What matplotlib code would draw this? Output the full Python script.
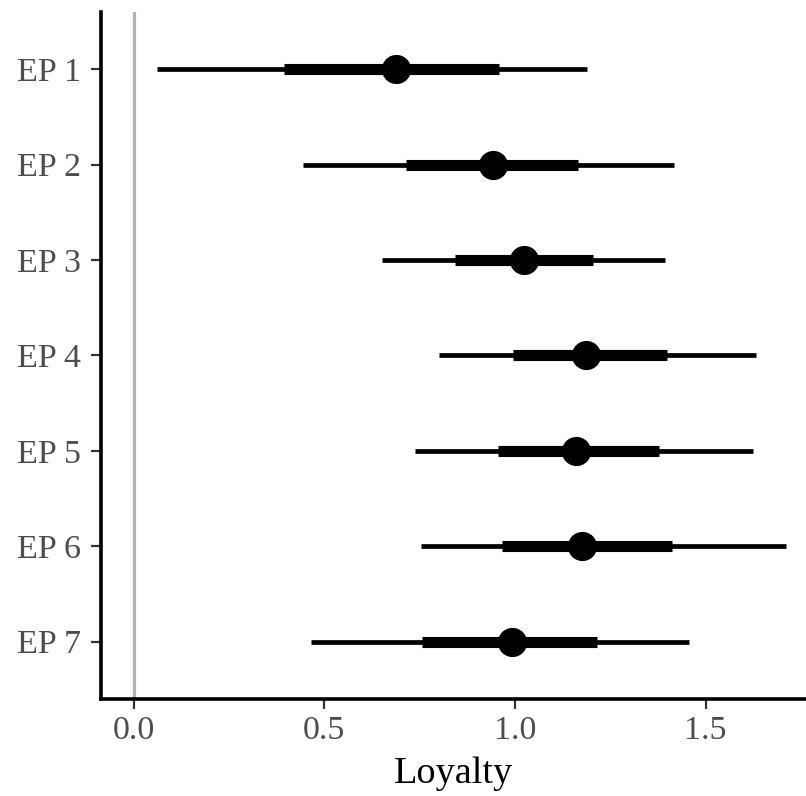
import matplotlib
matplotlib.use("Agg")
import matplotlib.pyplot as plt

labels = ["EP 1", "EP 2", "EP 3", "EP 4", "EP 5", "EP 6", "EP 7"]
estimate = [0.688, 0.941, 1.024, 1.186, 1.160, 1.175, 0.991]
inner_lo = [0.395, 0.714, 0.843, 0.995, 0.956, 0.965, 0.756]
inner_hi = [0.959, 1.164, 1.204, 1.398, 1.378, 1.412, 1.214]
outer_lo = [0.062, 0.445, 0.652, 0.801, 0.738, 0.753, 0.464]
outer_hi = [1.188, 1.418, 1.392, 1.633, 1.623, 1.710, 1.456]
xticks = [0.0, 0.5, 1.0, 1.5]
xlabel = "Loyalty"

plt.rcParams['font.family'] = ['Liberation Serif', 'DejaVu Serif']

fig = plt.figure(figsize=(8.06, 7.96), dpi=100)
ax = fig.add_axes([0.1253, 0.1219, 0.8747, 0.8632])

ypos = list(range(1, len(labels) + 1))
ax.axvline(0, color='#b3b3b3', lw=2.3, zorder=1)
ax.hlines(ypos, outer_lo, outer_hi, color='black', lw=3.4, zorder=2)
ax.hlines(ypos, inner_lo, inner_hi, color='black', lw=8.0, zorder=3)
ax.plot(estimate, ypos, 'o', color='black', ms=20, zorder=4)

ax.set_xlim(-0.0858, 1.763)
ax.set_ylim(7.6, 0.4)
ax.set_yticks(ypos)
ax.set_yticklabels(labels)
ax.set_xticks(xticks)
ax.set_xticklabels([f"{t:.1f}" for t in xticks])
ax.set_xlabel(xlabel, fontsize=27.5, color='black', labelpad=8)

for s in ['top', 'right']:
    ax.spines[s].set_visible(False)
for s in ['left', 'bottom']:
    ax.spines[s].set_linewidth(2.6)
    ax.spines[s].set_color('black')

ax.tick_params(axis='both', length=7.2, width=1.6, color='#333333',
               labelsize=24.5, labelcolor='#4d4d4d')
ax.tick_params(axis='y', pad=7)
ax.tick_params(axis='x', pad=4.5)

fig.savefig("out.png", dpi=100)
